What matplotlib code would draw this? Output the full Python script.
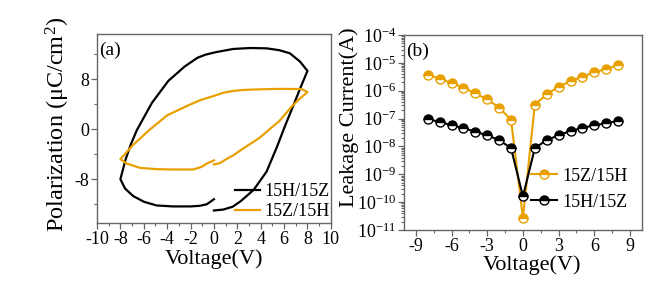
import matplotlib
matplotlib.use("Agg")
import matplotlib.pyplot as plt
from matplotlib.ticker import MultipleLocator, LogLocator, NullFormatter

plt.rcParams['font.family'] = ['Liberation Serif', 'DejaVu Serif']
plt.rcParams['mathtext.fontset'] = 'custom'
plt.rcParams['mathtext.rm'] = 'Liberation Serif'
plt.rcParams['mathtext.it'] = 'Liberation Serif:italic'
plt.rcParams['axes.unicode_minus'] = False

# ---------------- data: panel (a) P-E loops ----------------
v_15h15z = [0.0, 0.8, 1.6, 2.3, 3.4, 4.5, 5.4, 6.1, 6.8, 7.4, 8.0,
            7.35, 6.5, 5.6, 4.5, 3.1, 1.65, 0.2, -0.7, -1.4, -2.5, -3.9, -5.3,
            -6.1, -6.6, -7.1, -7.55, -8.0,
            -7.6, -6.9, -6.0, -4.9, -3.5, -2.0, -1.2, -0.6, 0.0]
p_15h15z = [-13.0, -12.85, -12.4, -11.5, -9.7, -6.8, -2.8, 0.6, 3.8, 6.6, 9.3,
            10.8, 12.1, 12.6, 12.9, 12.95, 12.8, 12.3, 11.9, 11.4, 10.0, 7.7, 4.2,
            1.5, -0.2, -2.4, -4.8, -8.0,
            -9.5, -10.7, -11.6, -12.2, -12.35, -12.35, -12.25, -12.0, -11.2]

v_15z15h = [0.0, 0.5, 1.1, 1.65, 2.5, 3.9, 4.9, 5.6, 6.6, 7.3, 8.0,
            7.5, 5.5, 3.9, 2.5, 1.65, 0.8, 0.0, -1.2, -2.3, -4.0, -5.5, -6.9, -8.0,
            -7.46, -6.3, -4.9, -3.5, -1.77, -1.05, -0.6, 0.0]
p_15z15h = [-5.65, -5.45, -4.75, -4.2, -3.1, -1.4, 0.2, 1.3, 3.5, 4.8, 5.9,
            6.4, 6.42, 6.35, 6.25, 6.1, 5.8, 5.3, 4.6, 3.7, 2.2, -0.1, -2.5, -4.8,
            -5.5, -6.2, -6.4, -6.45, -6.45, -6.03, -5.5, -5.0]

# ---------------- data: panel (b) leakage current ----------------
voltage_b = [-8, -7, -6, -5, -4, -3, -2, -1, 0, 1, 2, 3, 4, 5, 6, 7, 8]
i_15z15h = [3.8e-6, 2.7e-6, 1.9e-6, 1.3e-6, 8.0e-7, 4.9e-7, 2.5e-7, 9.0e-8, 2.7e-11,
            3.2e-7, 7.4e-7, 1.4e-6, 2.2e-6, 3.2e-6, 4.6e-6, 6.1e-6, 8.3e-6]
i_15h15z = [9.5e-8, 7.6e-8, 5.8e-8, 4.5e-8, 3.4e-8, 2.5e-8, 1.7e-8, 8.7e-9, 1.6e-10,
            8.7e-9, 1.7e-8, 2.5e-8, 3.6e-8, 4.6e-8, 5.8e-8, 6.8e-8, 8.3e-8]

xticks_a = [-10, -8, -6, -4, -2, 0, 2, 4, 6, 8, 10]
yticks_a = [-8, 0, 8]
xticks_b = [-9, -6, -3, 0, 3, 6, 9]

ORANGE = '#E8A000'
BLACK = '#000000'
SPINE = '#666666'

fig = plt.figure(figsize=(6.7, 2.9), dpi=100)
ax1 = fig.add_axes([0.1448, 0.231, 0.349, 0.652])
ax2 = fig.add_axes([0.603, 0.207, 0.355, 0.672])

for ax in (ax1, ax2):
    for s in ax.spines.values():
        s.set_color(SPINE)
        s.set_linewidth(1.0)
    ax.tick_params(which='both', direction='out', colors=SPINE, labelcolor='black',
                   labelsize=13, top=False, right=False, pad=1.5)
    ax.tick_params(which='major', length=4, width=0.9)
    ax.tick_params(which='minor', length=2.5, width=0.8)

# ---- panel (a)
ax1.plot(v_15h15z, p_15h15z, color=BLACK, lw=1.6, label='15H/15Z')
ax1.plot(v_15z15h, p_15z15h, color=ORANGE, lw=1.6, label='15Z/15H')
ax1.set_xlim(-10, 10)
ax1.set_ylim(-15.0, 15.2)
ax1.set_xticks(xticks_a)
ax1.xaxis.set_minor_locator(MultipleLocator(1))
ax1.set_yticks(yticks_a)
ax1.yaxis.set_minor_locator(MultipleLocator(4))
ax1.set_xlabel('Voltage(V)', fontsize=16, labelpad=1)
ax1.set_ylabel('Polarization (μC/cm$^\\mathregular{2}$)', fontsize=17.5)
ax1.yaxis.set_label_coords(-0.107, 0.52)
ax1.text(0.01, 0.96, '(a)', transform=ax1.transAxes, fontsize=14, va='top', ha='left')
ax1.legend(loc='lower right', bbox_to_anchor=(1.055, -0.06), frameon=False, fontsize=13,
           handlelength=1.4, handletextpad=0.2, labelspacing=0.15, borderpad=0.3)

# ---- panel (b)
ax2.semilogy(voltage_b, i_15z15h, color=ORANGE, lw=1.5, marker='o', ms=6.5,
             fillstyle='top', markerfacecoloralt='white', mec=ORANGE, mew=1.0,
             label='15Z/15H')
ax2.semilogy(voltage_b, i_15h15z, color=BLACK, lw=1.5, marker='o', ms=6.5,
             fillstyle='top', markerfacecoloralt='white', mec=BLACK, mew=1.0,
             label='15H/15Z')
ax2.set_xlim(-10, 10)
ax2.set_ylim(1e-11, 1e-4)
ax2.set_xticks(xticks_b)
ax2.xaxis.set_minor_locator(MultipleLocator(1.5))
ax2.yaxis.set_major_locator(LogLocator(base=10, numticks=20))
ax2.yaxis.set_minor_locator(LogLocator(base=10, subs=range(2, 10), numticks=50))
ax2.yaxis.set_minor_formatter(NullFormatter())
ax2.set_xlabel('Voltage(V)', fontsize=16, labelpad=1)
ax2.xaxis.set_label_coords(0.54, -0.13)
ax2.set_ylabel('Leakage Current(A)', fontsize=16)
ax2.yaxis.set_label_coords(-0.19, 0.577)
ax2.text(0.01, 0.96, '(b)', transform=ax2.transAxes, fontsize=14, va='top', ha='left')
ax2.legend(loc='lower right', bbox_to_anchor=(1.0, 0.025), frameon=False, fontsize=13,
           handlelength=1.4, handletextpad=0.3, labelspacing=0.5, borderpad=0.3)

fig.savefig('out.png', dpi=100)
